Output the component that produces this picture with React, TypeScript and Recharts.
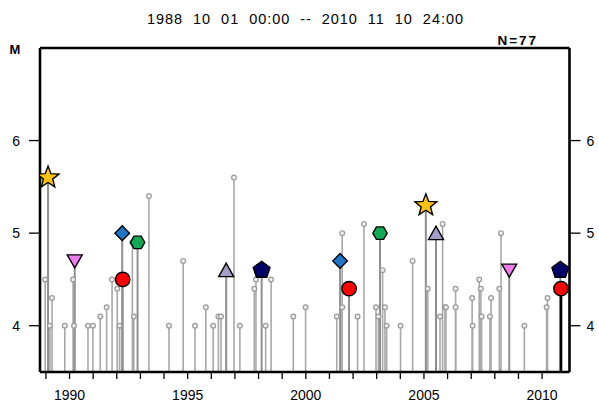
import React from 'react';
import { ComposedChart, XAxis, YAxis, Scatter, ReferenceLine } from 'recharts';

// Ordinary events (small gray markers)
const grayT = [
  1988.97, 1989.17, 1989.26, 1989.80, 1990.15, 1990.19, 1990.78, 1990.99, 1991.30, 1991.57,
  1991.80, 1992.02, 1992.12, 1992.66, 1992.72, 1993.36, 1994.21, 1994.81, 1995.31, 1995.77,
  1996.08, 1996.30, 1996.41, 1996.96, 1997.21, 1997.82, 1997.89, 1998.30, 1998.53, 1999.47,
  1999.99, 2001.31, 2001.54, 2001.54, 2002.19, 2002.46, 2002.97, 2003.07, 2003.25, 2003.35,
  2003.42, 2004.01, 2004.52, 2005.16, 2005.68, 2005.79, 2005.89, 2005.93, 2006.34, 2006.34,
  2007.04, 2007.06, 2007.34, 2007.41, 2007.44, 2007.79, 2007.84, 2008.19, 2008.26, 2009.25,
  2010.19, 2010.23,
];
const grayM = [
  4.5, 4.0, 4.3, 4.0, 4.5, 4.0, 4.0, 4.0, 4.1, 4.2,
  4.5, 4.4, 4.0, 4.9, 4.1, 5.4, 4.0, 4.7, 4.0, 4.2,
  4.0, 4.1, 4.1, 5.6, 4.0, 4.4, 4.5, 4.0, 4.5, 4.1,
  4.2, 4.1, 5.0, 4.2, 4.1, 5.1, 4.2, 4.1, 4.6, 4.2,
  4.0, 4.0, 4.7, 4.4, 4.1, 5.1, 4.2, 4.2, 4.4, 4.2,
  4.3, 4.0, 4.5, 4.4, 4.1, 4.1, 4.3, 4.4, 5.0, 4.0,
  4.2, 4.3,
];

// Highlighted events (large symbols)
const specT = [1989.09, 1990.22, 1992.23, 1992.25, 1992.88, 1996.63, 1998.13, 2001.45, 2001.83, 2003.14, 2005.08, 2005.51, 2008.61, 2010.77, 2010.80];
const specM = [5.6, 4.7, 5.0, 4.5, 4.9, 4.6, 4.6, 4.7, 4.4, 5.0, 5.3, 5.0, 4.6, 4.6, 4.4];
const specKind = ['star', 'tridown', 'diamond', 'circle', 'hexagon', 'triup', 'pentagon', 'diamond', 'circle', 'hexagon', 'star', 'triup', 'tridown', 'pentagon', 'circle'];
const latestIndex = 14;

const xTicks = [1989, 1990, 1991, 1992, 1993, 1994, 1995, 1996, 1997, 1998, 1999, 2000, 2001, 2002, 2003, 2004, 2005, 2006, 2007, 2008, 2009, 2010];
const yTicks = [4, 5, 6];
const xDomain = [1988.75, 2011.16];
const yDomain = [3.5, 7.0];

const titleText = '1988  10  01  00:00  --  2010  11  10  24:00';
const countLabel = 'N=77';
const axisLabel = 'M';

const FONT = '"Liberation Sans", Arial, sans-serif';

const kindStyle: Record<string, string> = {
  star: '#FFC20E',
  tridown: '#F27BF0',
  diamond: '#1C76C8',
  circle: '#FF0000',
  hexagon: '#10AA55',
  triup: '#A59CC9',
  pentagon: '#000066',
};

function regPoly(cx: number, cy: number, r: number, n: number, rot: number) {
  const pts: string[] = [];
  for (let i = 0; i < n; i++) {
    const a = rot + (i * 2 * Math.PI) / n;
    pts.push(`${cx + r * Math.cos(a)},${cy + r * Math.sin(a)}`);
  }
  return pts.join(' ');
}

function starPts(cx: number, cy: number, R: number, r: number) {
  const pts: string[] = [];
  for (let i = 0; i < 10; i++) {
    const rad = i % 2 === 0 ? R : r;
    const a = -Math.PI / 2 + (i * Math.PI) / 5;
    pts.push(`${cx + rad * Math.cos(a)},${cy + rad * Math.sin(a)}`);
  }
  return pts.join(' ');
}

function makeShape(kind: string) {
  const fill = kindStyle[kind];
  return (p: any) => {
    const { cx, cy } = p;
    if (cx == null || cy == null) return <g />;
    const common = { fill, stroke: '#000', strokeWidth: 1.4, strokeLinejoin: 'miter' as const };
    switch (kind) {
      case 'star':
        return <polygon points={starPts(cx, cy, 11.5, 4.9)} {...common} />;
      case 'tridown':
        return <polygon points={`${cx - 7.5},${cy - 6} ${cx + 7.5},${cy - 6} ${cx},${cy + 7}`} {...common} />;
      case 'triup':
        return <polygon points={`${cx - 7.5},${cy + 6.5} ${cx + 7.5},${cy + 6.5} ${cx},${cy - 7}`} {...common} />;
      case 'diamond':
        return <polygon points={regPoly(cx, cy, 7.3, 4, 0)} {...common} />;
      case 'hexagon':
        return <polygon points={regPoly(cx, cy, 7.2, 6, 0)} {...common} />;
      case 'pentagon':
        return <polygon points={regPoly(cx, cy, 8.8, 5, -Math.PI / 2)} {...common} />;
      default:
        return <circle cx={cx} cy={cy} r={7.2} {...common} />;
    }
  };
}

const grayShape = (p: any) => {
  if (p.cx == null || p.cy == null) return <g />;
  return <circle cx={p.cx} cy={p.cy} r={2.4} fill="#eeeeee" stroke="#9a9a9a" strokeWidth={1.2} />;
};

const grayData = grayT.map((t, i) => ({ t, m: grayM[i] }));
const specData = specT.map((t, i) => ({ t, m: specM[i], kind: specKind[i] }));
const kinds = ['star', 'tridown', 'diamond', 'circle', 'hexagon', 'triup', 'pentagon'];

const tickStyle = { fill: '#000', fontSize: 14, fontFamily: FONT };

export default function App() {
  return (
    <div style={{ position: 'absolute', left: 0, top: 0, width: 599, height: 405, background: '#fff' }}>
      <ComposedChart width={599} height={405} margin={{ top: 48, right: 0, bottom: 0, left: 0 }}>
        <XAxis
          xAxisId="b"
          dataKey="t"
          type="number"
          domain={xDomain}
          allowDataOverflow
          ticks={xTicks}
          interval={0}
          tickFormatter={(v: number) => (v % 5 === 0 ? String(v) : '')}
          height={33}
          tickSize={7}
          tickMargin={11}
          tick={tickStyle}
          axisLine={{ stroke: '#000', strokeWidth: 2.6 }}
          tickLine={{ stroke: '#000', strokeWidth: 1.3 }}
        />
        <YAxis
          yAxisId="l"
          type="number"
          domain={yDomain}
          allowDataOverflow
          ticks={yTicks}
          width={40}
          tickSize={11}
          tickMargin={9}
          tick={tickStyle}
          axisLine={{ stroke: '#000', strokeWidth: 2.6 }}
          tickLine={{ stroke: '#000', strokeWidth: 1.3 }}
        />
        <YAxis
          yAxisId="r"
          orientation="right"
          type="number"
          domain={yDomain}
          allowDataOverflow
          ticks={yTicks}
          width={29.5}
          tickSize={11}
          tickMargin={6}
          tick={tickStyle}
          axisLine={{ stroke: '#000', strokeWidth: 2.6 }}
          tickLine={{ stroke: '#000', strokeWidth: 1.3 }}
        />
        <ReferenceLine xAxisId="b" yAxisId="l" y={yDomain[1]} stroke="#000" strokeWidth={2.6} />
        {grayData.map((d, i) => (
          <ReferenceLine
            key={'g' + i}
            xAxisId="b"
            yAxisId="l"
            segment={[{ x: d.t, y: yDomain[0] }, { x: d.t, y: d.m }]}
            stroke="#a8a8a8"
            strokeWidth={1.6}
          />
        ))}
        {specData.map((d, i) => (
          <ReferenceLine
            key={'s' + i}
            xAxisId="b"
            yAxisId="l"
            segment={[{ x: d.t, y: yDomain[0] }, { x: d.t, y: d.m }]}
            stroke={i === latestIndex ? '#000' : '#8f8f8f'}
            strokeWidth={i === latestIndex ? 2.6 : 2}
          />
        ))}
        <Scatter
          xAxisId="b"
          yAxisId="l"
          data={grayData}
          dataKey="m"
          shape={grayShape}
          isAnimationActive={false}
        />
        {kinds.map((k) => (
          <Scatter
            key={k}
            xAxisId="b"
            yAxisId="l"
            data={specData.filter((d) => d.kind === k)}
            dataKey="m"
            shape={makeShape(k)}
            isAnimationActive={false}
          />
        ))}
      </ComposedChart>
      <svg width={599} height={405} style={{ position: 'absolute', left: 0, top: 0, pointerEvents: 'none' }}>
        <text x={147} y={24} fontFamily={FONT} fontSize={14.5} fill="#000" textLength={316} lengthAdjust="spacing" style={{ whiteSpace: 'pre' }}>
          {titleText}
        </text>
        <text x={9.5} y={54} fontFamily={FONT} fontSize={13} fontWeight="bold" fill="#000">
          {axisLabel}
        </text>
        <text x={497.5} y={45} fontFamily={FONT} fontSize={13.5} fontWeight="bold" fill="#000" textLength={38.5} lengthAdjust="spacing">
          {countLabel}
        </text>
      </svg>
    </div>
  );
}
